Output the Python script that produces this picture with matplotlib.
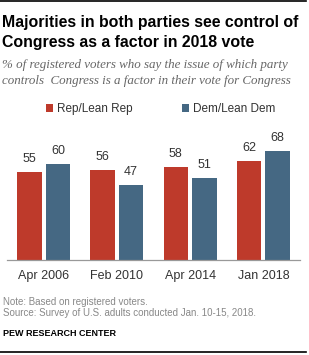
import numpy as np
import matplotlib.pyplot as plt

# Data
periods = ["Apr 2006", "Feb 2010", "Apr 2014", "Jan 2018"]
rep_values = [55, 56, 58, 62]
dem_values = [60, 47, 51, 68]
series_names = ["Rep/Lean Rep", "Dem/Lean Dem"]

red = "#BE3A2B"
blue = "#456883"

fig = plt.figure(figsize=(3.09, 3.55), dpi=100)

# top and bottom rules
fig.add_artist(plt.Line2D([0.0, 0.99], [0.997, 0.997], color="black", lw=1.2))
fig.add_artist(plt.Line2D([0.0, 0.99], [0.009, 0.009], color="black", lw=1.2))

title_font = ["Liberation Sans", "DejaVu Sans"]
fig.text(0.005, 0.937, "Majorities in both parties see control of",
         fontsize=11.4, fontweight="bold", family=title_font, va="center")
fig.text(0.005, 0.880, "Congress as a factor in 2018 vote",
         fontsize=11.4, fontweight="bold", family=title_font, va="center")
serif = ["Liberation Serif", "DejaVu Serif"]
fig.text(0.005, 0.818, "% of registered voters who say the issue of which party",
         fontsize=9.4, style="italic", family=serif, color="#666666", va="center")
fig.text(0.005, 0.773, "controls  Congress is a factor in their vote for Congress",
         fontsize=9.4, style="italic", family=serif, color="#666666", va="center")

# Axes
ax = fig.add_axes([7 / 309, 1 - 260 / 355, 293 / 309, 160 / 355])
x = np.arange(len(periods))
w = 0.335
off = 0.195
bars_r = ax.bar(x - off, rep_values, w, color=red, label=series_names[0])
bars_d = ax.bar(x + off, dem_values, w, color=blue, label=series_names[1])
for bars, vals in ((bars_r, rep_values), (bars_d, dem_values)):
    for b, v in zip(bars, vals):
        ax.text(b.get_x() + b.get_width() / 2, v + 4.5, str(v), ha="center",
                va="bottom", fontsize=9, family="Liberation Sans", color="#333333")

ax.set_xlim(-0.5, 3.5)
ax.set_ylim(0, 100)
ax.set_xticks(x)
ax.set_xticklabels(periods, fontsize=9, family="Liberation Sans", color="#333333")
ax.tick_params(axis="x", length=0, pad=7)
ax.set_yticks([])
for s in ["top", "right", "left"]:
    ax.spines[s].set_visible(False)
ax.spines["bottom"].set_color("#999999")
ax.spines["bottom"].set_linewidth(0.9)

leg = fig.legend(handles=[bars_r, bars_d], labels=series_names, loc="center",
                 bbox_to_anchor=(0.52, 1 - 109 / 355), ncol=2, frameon=False,
                 handlelength=0.6, handleheight=0.6, handletextpad=0.3,
                 columnspacing=4.2, prop={"family": "Liberation Sans", "size": 8.5})
for t in leg.get_texts():
    t.set_color("#333333")

fig.text(0.01, 1 - 302 / 355, "Note: Based on registered voters.",
         fontsize=7, family="Liberation Sans", color="#888888", va="center")
fig.text(0.01, 1 - 313 / 355, "Source: Survey of U.S. adults conducted Jan. 10-15, 2018.",
         fontsize=7, family="Liberation Sans", color="#888888", va="center")
fig.text(0.01, 1 - 333 / 355, "PEW RESEARCH CENTER",
         fontsize=6.5, fontweight="bold", family="Liberation Sans", color="black",
         va="center")

fig.savefig("out.png", dpi=100)
